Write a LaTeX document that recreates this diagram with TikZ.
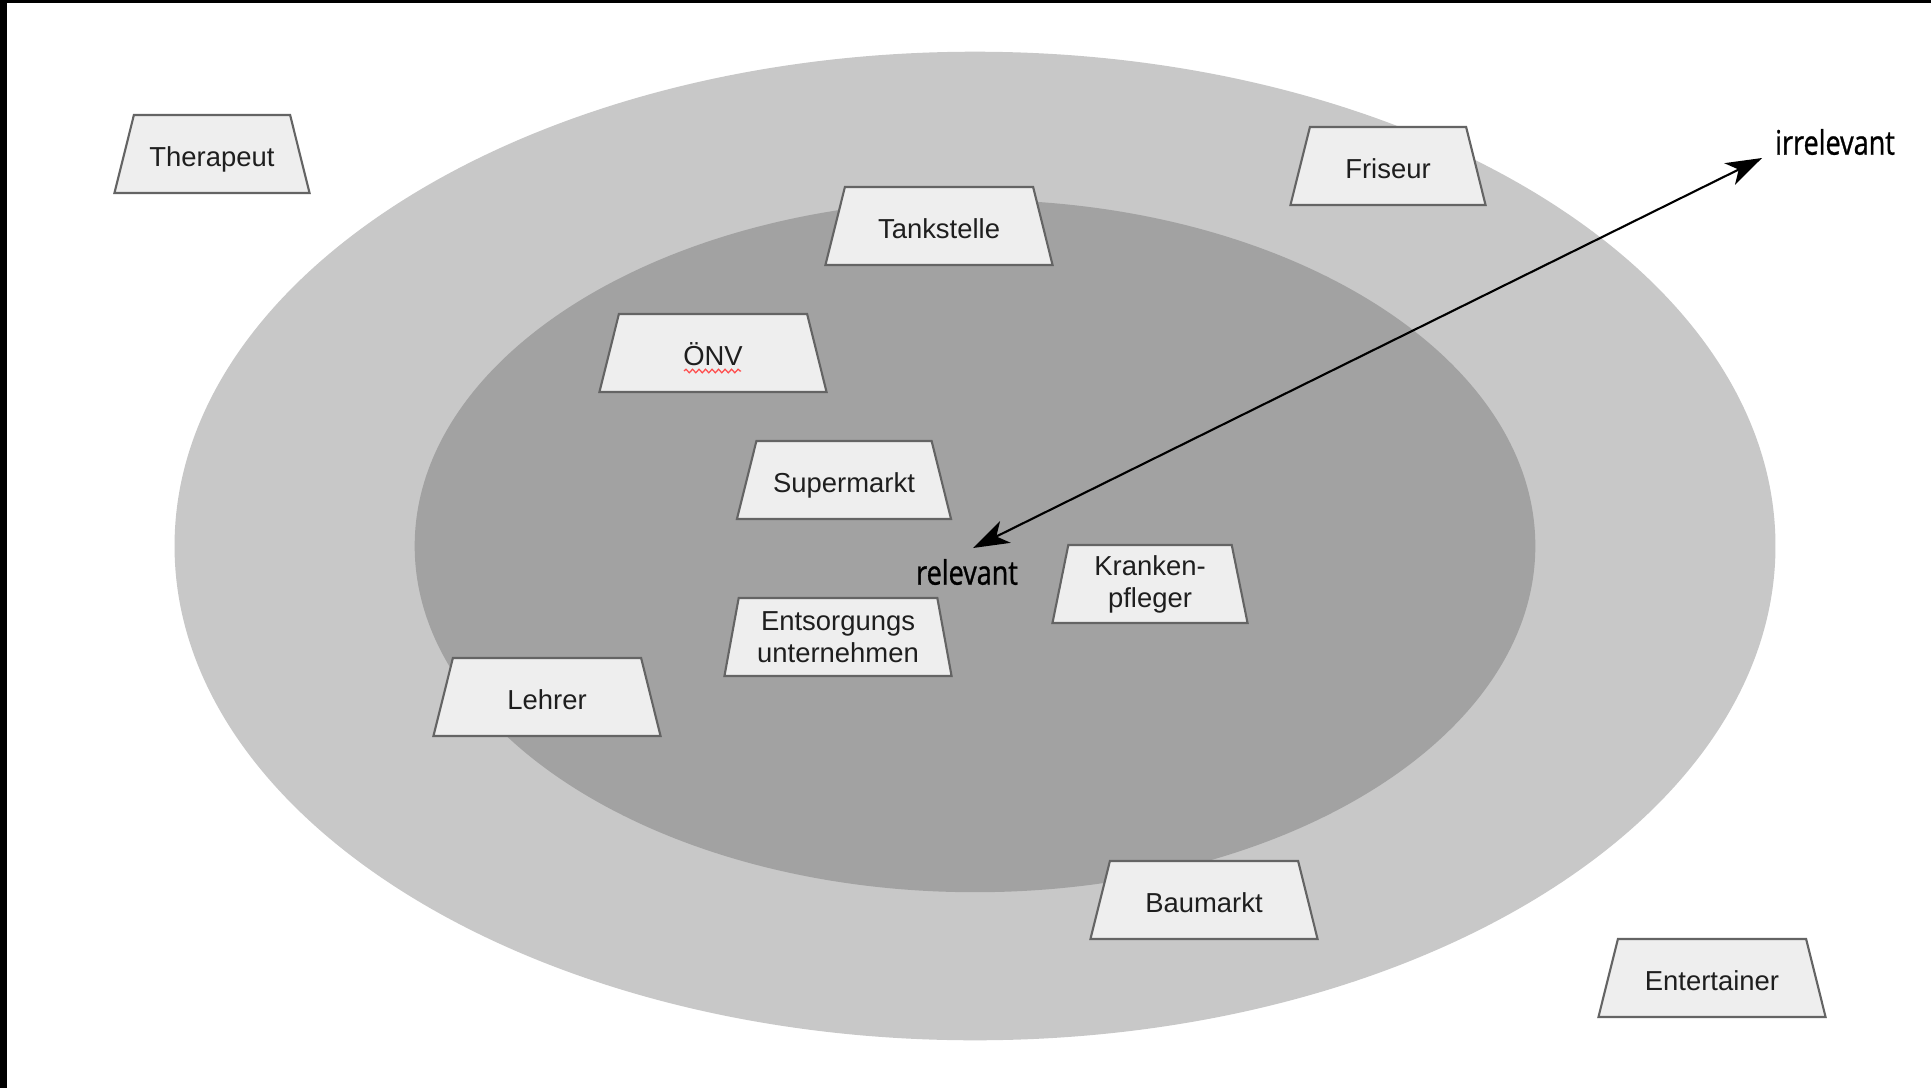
\documentclass[tikz,border=0pt]{standalone}
\usepackage{fontspec}
\setmainfont{Liberation Sans}
\newfontfamily\labelfont[FakeStretch=0.8,FakeBold=0.9]{Open Sans}
\usepackage{tikz}
\usetikzlibrary{positioning,shapes.geometric,arrows.meta,decorations.pathmorphing,calc}

\definecolor{outerring}{RGB}{200,200,200}
\definecolor{innerring}{RGB}{162,162,162}
\definecolor{boxfill}{RGB}{238,238,238}
\definecolor{boxline}{RGB}{100,100,100}
\definecolor{boxtext}{RGB}{30,30,30}

\tikzset{
  place/.style={trapezium, trapezium stretches=true, trapezium stretches body=true,
    trapezium left angle=76, trapezium right angle=76,
    draw=boxline, fill=boxfill, line width=0.6pt, minimum height=0.78cm, inner xsep=0pt,
    inner ysep=0.195cm, text height=0.32cm, text depth=0.07cm,
    font=\fontsize{7.8}{9.1}\selectfont, text=boxtext, align=center},
  twoline/.style={text height=, text depth=, inner ysep=0.03cm, execute at begin node=\rule{0pt}{0.35cm}},
  narrow/.style={place, minimum width=1.95cm},
  wide/.style={place, minimum width=2.27cm},
  scalelabel/.style={font=\labelfont\fontsize{9.6}{11}\selectfont, text=black, inner sep=0pt},
  scalearrow/.style={{Stealth[length=0.36cm,width=0.24cm,inset=0.1cm]}-{Stealth[length=0.36cm,width=0.24cm,inset=0.1cm]}, line width=0.6pt}
}

\begin{document}
\begin{tikzpicture}[x=0.01cm, y=-0.01cm]
\useasboundingbox (0,0) rectangle (1931,1088);
\fill[white] (0,0) rectangle (1931,1088);
\fill[black] (0,0) rectangle (7,1088);
\fill[black] (0,0) rectangle (1931,3);

\fill[outerring] (975,546) ellipse [x radius=8cm, y radius=4.94cm];
\fill[innerring] (975,546) ellipse [x radius=5.6cm, y radius=3.46cm];

\node[narrow] (therapeut) at (212,154) {Therapeut};
\node[wide] (tankstelle) at (939,226) {Tankstelle};
\node[narrow] (friseur) at (1388,166) {Friseur};
\node[wide] (onv) at (713,353) {ÖNV};
\node[place, minimum width=2.14cm] (supermarkt) at (844,480) {Supermarkt};
\node[wide, twoline] (entsorgung) at (838,637) {Entsorgungs\\unternehmen};
\node[narrow, twoline] (pfleger) at (1150,584) {Kranken-\\pfleger};
\node[wide] (lehrer) at (547,697) {Lehrer};
\node[wide] (baumarkt) at (1204,900) {Baumarkt};
\node[wide] (entertainer) at (1712,978) {Entertainer};

\draw[red!70, line width=0.35pt, decorate, decoration={snake, amplitude=0.018cm, segment length=0.065cm}]
  ($(onv.center)+(-29,18)$) -- ++(57,0);

\node[scalelabel] (relevant) at (967,572) {relevant};
\node[scalelabel] (irrelevant) at (1835,142) {irrelevant};
\coordinate (reltip) at (973,548);
\coordinate (irrtip) at (1762,158);
\draw[scalearrow] (reltip) -- (irrtip);
\end{tikzpicture}
\end{document}
